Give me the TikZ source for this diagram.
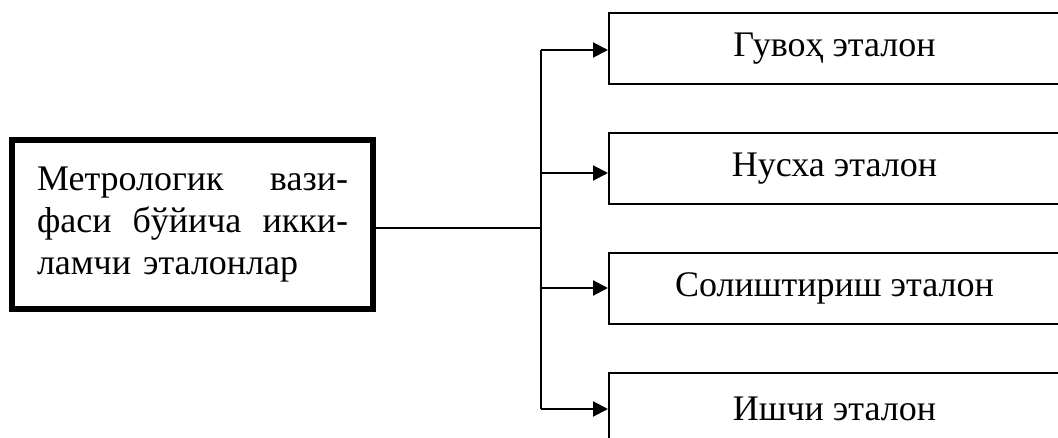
\documentclass[tikz,border=0pt]{standalone}
\usepackage{fontspec}
\setmainfont{Liberation Serif}
\usetikzlibrary{arrows.meta}
\begin{document}
\begin{tikzpicture}[x=1pt,y=-1pt,
  mainbox/.style={draw, line width=6pt, minimum width=361pt, minimum height=169pt,
    inner sep=0pt, text width=311pt, align=left, font=\fontsize{36}{42}\selectfont},
  subbox/.style={draw, line width=2pt, minimum width=451pt, minimum height=71pt,
    inner sep=0pt, font=\fontsize{36}{42}\selectfont},
  link/.style={line width=2pt},
  arr/.style={line width=2pt, -{Triangle[length=15pt,width=15pt]}}]
\useasboundingbox (0,0) rectangle (1058,438);
\node[mainbox] (m) at (192.5,224.5) {Метрологик\hfill вази-\\фаси\hfill бўйича\hfill икки-\\ламчи эталонлар};
\node[subbox] (b1) at (834.5,48.5) {Гувоҳ эталон};
\node[subbox] (b2) at (834.5,168.5) {Нусха эталон};
\node[subbox] (b3) at (834.5,288.5) {Солиштириш эталон};
\node[subbox] (b4) at (834.5,408.5) {Ишчи эталон};
\coordinate (j) at (541,228);
\coordinate (a1) at (541,50);
\coordinate (a2) at (541,173);
\coordinate (a3) at (541,288);
\coordinate (a4) at (541,409);
\draw[link] (j -| m.east) -- (j);
\draw[link] (a1) -- (a4);
\draw[arr] (a1) -- (a1 -| b1.west);
\draw[arr] (a2) -- (a2 -| b2.west);
\draw[arr] (a3) -- (a3 -| b3.west);
\draw[arr] (a4) -- (a4 -| b4.west);
\end{tikzpicture}
\end{document}
